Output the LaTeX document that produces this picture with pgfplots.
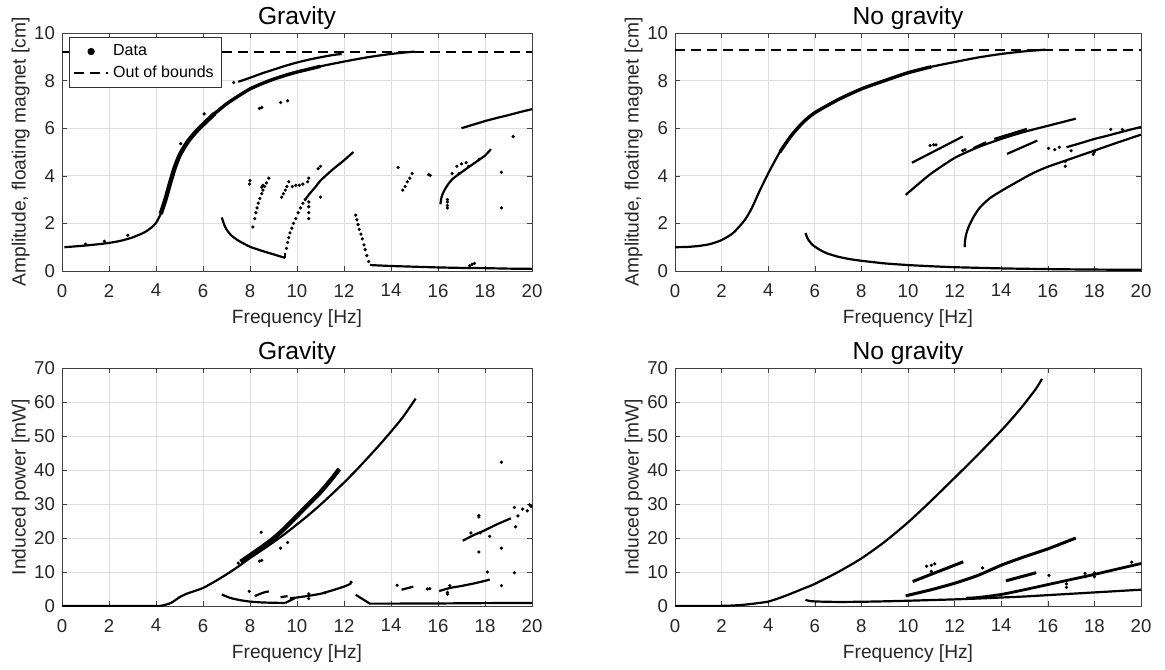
\documentclass[border=0pt]{standalone}
\usepackage{fontspec}
\setmainfont{Liberation Sans}
\usepackage{pgfplots}
\pgfplotsset{compat=1.18}

\pgfplotsset{
  mlab/.style={
    scale only axis, width=235pt, height=119pt,
    xmin=0, xmax=20, xtick={0,2,...,20},
    grid=major, grid style={black!13, line width=0.4pt},
    axis line style={black!75, line width=0.5pt},
    tick align=inside, major tick length=2.5pt, tick style={black!75},
    ticklabel style={font=\fontsize{9.3}{10}\selectfont, text=black!85},
    xticklabel style={yshift=-3pt},
    label style={font=\fontsize{9.6}{11}\selectfont, text=black!85},
    xlabel style={yshift=0.5pt},
    ylabel style={yshift=-4.5pt},
    title style={font=\fontsize{12.3}{13}\selectfont, text=black, yshift=-8pt},
    xlabel={Frequency [Hz]},
    /pgf/number format/assume math mode=true,
  },
  crv/.style={black, line width=1.1pt, no marks},
  thk/.style={black, line width=2.2pt, no marks},
  dts/.style={black, only marks, mark=*, mark size=0.6pt},
  oob/.style={black, line width=1pt, dash pattern=on 5pt off 3pt},
}

\begin{document}
\begin{tikzpicture}

% ---------------- top left: gravity, amplitude
\begin{axis}[mlab, at={(31pt,-135.5pt)}, anchor=south west,
  ymin=0, ymax=10, ytick={0,2,...,10},
  title={Gravity}, ylabel={Amplitude, floating magnet [cm]},
  legend style={at={(0.015,0.985)}, anchor=north west, draw=black!80,
    font=\fontsize{8}{9}\selectfont, cells={anchor=west},
    row sep=-0.5pt, inner sep=1.8pt}]
\addlegendimage{black, only marks, mark=*, mark size=1.6pt}
\addlegendentry{Data}
\addlegendimage{oob}
\addlegendentry{Out of bounds}
\addplot[oob] coordinates {(0,9.2)(20,9.2)};
\addplot[crv, smooth, tension=0.4] coordinates {(0.1,1.0)(0.5,1.03)(1,1.07)(1.5,1.12)(2,1.18)(2.5,1.27)(3,1.41)(3.5,1.62)(3.8,1.82)(4,2.02)(4.2,2.4)(4.4,3.0)(4.6,3.7)(4.8,4.35)(5,4.85)(5.2,5.2)(5.4,5.5)(5.7,5.85)(6,6.15)(6.5,6.62)(7,7.02)(7.5,7.35)(8,7.65)(8.5,7.87)(9,8.06)(9.5,8.22)(10,8.36)(11,8.6)(12,8.8)(13,8.98)(14,9.12)(15,9.22)};
\addplot[thk, smooth, tension=0.4] coordinates {(4.2,2.4)(4.4,3.0)(4.6,3.7)(4.8,4.35)(5,4.85)(5.2,5.2)(5.4,5.5)(5.7,5.85)(6,6.15)(6.5,6.62)};
\addplot[black, line width=1.7pt, smooth, tension=0.4] coordinates {(6.5,6.62)(7,7.02)(7.5,7.35)(8,7.65)(8.5,7.87)(9,8.06)(9.5,8.22)(10,8.36)(11,8.6)};
\addplot[crv, smooth, tension=0.4] coordinates {(7.5,7.95)(7.8,8.05)(8,8.12)(8.5,8.3)(9,8.46)(9.5,8.62)(10,8.76)(10.5,8.88)(11,8.98)(11.5,9.07)(11.9,9.12)};
\addplot[dts] coordinates {(7.3,7.92)(8.4,6.83)(8.5,6.87)(9.3,7.08)(9.6,7.15)(1.0,1.13)(1.8,1.25)(2.8,1.5)(6.05,6.6)(5.05,5.35)};
\addplot[crv, smooth, tension=0.4] coordinates {(6.8,2.25)(6.9,1.95)(7,1.75)(7.2,1.5)(7.5,1.28)(8,1.02)(8.5,0.85)(9,0.7)(9.5,0.55)};
\addplot[crv] coordinates {(9.5,0.55)(9.5,0.75)};
\addplot[dts] coordinates {(9.55,0.95)(9.6,1.2)(9.65,1.4)(9.7,1.6)(9.78,1.8)(9.85,2.0)(9.95,2.2)(10.05,2.45)(10.15,2.65)(10.25,2.85)(10.35,3.0)};
\addplot[crv, smooth, tension=0.4] coordinates {(10.35,3.0)(10.5,3.2)(10.8,3.55)(11,3.8)(11.5,4.25)(12,4.65)(12.4,5.0)};
\addplot[dts] coordinates {(8.12,1.85)(8.2,2.2)(8.25,2.45)(8.3,2.65)(8.35,2.85)(8.42,3.05)(8.5,3.25)(8.55,3.4)(8.62,3.55)(8.7,3.7)(8.8,3.9)};
\addplot[dts] coordinates {(8.0,3.8)(7.98,3.65)(8.55,3.6)(8.5,3.52)(9.35,3.1)(9.42,3.25)(9.5,3.4)(9.57,3.55)(9.65,3.75)};
\addplot[dts] coordinates {(9.8,3.55)(9.95,3.6)(10.1,3.6)(10.25,3.65)(10.45,3.75)(10.5,3.9)(10.5,2.2)(10.5,2.45)(10.5,2.7)(10.5,2.9)(11,3.1)(10.9,4.3)(11,4.4)};
\addplot[dts] coordinates {(12.5,2.35)(12.55,2.15)(12.6,1.95)(12.65,1.75)(12.72,1.55)(12.78,1.35)(12.85,1.1)(12.9,0.9)(12.97,0.65)(13.05,0.4)};
\addplot[crv] coordinates {(13.1,0.25)(14,0.21)(15,0.18)(16,0.15)(17,0.13)(18,0.12)(19,0.1)(20,0.09)};
\addplot[dts] coordinates {(17.35,0.22)(17.45,0.28)(17.55,0.32)(14.3,4.35)(14.5,3.4)(14.6,3.55)(14.7,3.75)(14.8,3.9)(14.9,4.1)(15.6,4.05)(15.67,4.02)};
\addplot[crv, smooth, tension=0.4] coordinates {(16.1,2.8)(16.15,3.1)(16.25,3.35)(16.4,3.6)(16.6,3.85)(17,4.15)(17.5,4.5)(18,4.85)(18.25,5.12)};
\addplot[dts] coordinates {(16.4,2.65)(16.4,2.75)(16.4,2.9)(16.4,3.0)(16.6,4.1)(16.8,4.4)(17,4.5)(17.75,4.7)(17.3,4.4)(18.7,4.15)(18.7,2.65)(19.2,5.65)(16.9,4.1)(17.2,4.55)};
\addplot[crv] coordinates {(17,6.0)(17.5,6.15)(18,6.3)(18.5,6.43)(19,6.55)(19.5,6.68)(20,6.8)};
\end{axis}

% ---------------- top right: no gravity, amplitude
\begin{axis}[mlab, at={(337.5pt,-135.5pt)}, anchor=south west, width=233pt,
  ymin=0, ymax=10, ytick={0,2,...,10},
  title={No gravity}, ylabel={Amplitude, floating magnet [cm]}]
\addplot[oob] coordinates {(0,9.3)(20,9.3)};
\addplot[crv, smooth, tension=0.4] coordinates {(0,1)(0.5,1.01)(1,1.05)(1.5,1.13)(2,1.3)(2.5,1.6)(3,2.15)(3.3,2.65)(3.6,3.3)(4,4.1)(4.5,5.0)(5,5.7)(5.5,6.25)(6,6.65)(7,7.2)(8,7.65)(9,8.0)(10,8.33)(11,8.58)(12,8.78)(13,8.97)(14,9.12)(15,9.23)(15.9,9.3)};
\addplot[black, line width=1.7pt, smooth, tension=0.4] coordinates {(4.5,5.0)(5,5.7)(5.5,6.25)(6,6.65)(7,7.2)(8,7.65)(9,8.0)(10,8.33)(11,8.58)};
\addplot[crv, smooth, tension=0.4] coordinates {(5.6,1.6)(5.7,1.35)(5.9,1.1)(6.2,0.9)(6.5,0.75)(7,0.6)(7.5,0.5)(8,0.43)(9,0.32)(10,0.25)(11,0.2)(12,0.16)(14,0.11)(16,0.08)(18,0.06)(20,0.05)};
\addplot[crv, smooth, tension=0.4] coordinates {(9.9,3.2)(10.5,3.7)(11,4.1)(12,4.75)(13,5.2)(14,5.55)(15,5.85)(16,6.1)(17.2,6.4)};
\addplot[crv] coordinates {(10.17,4.55)(12.35,5.65)};
\addplot[crv] coordinates {(12.8,5.16)(13.35,5.41)};
\addplot[crv] coordinates {(13.7,5.55)(15.1,5.97)};
\addplot[crv] coordinates {(14.25,4.92)(15.55,5.48)};
\addplot[crv, smooth, tension=0.4] coordinates {(12.43,1.0)(12.45,1.3)(12.5,1.56)(12.6,1.85)(12.8,2.25)(13.07,2.65)(13.5,3.05)(14.1,3.42)(15.3,4.08)(16,4.38)(17,4.72)(18,5.06)(19,5.4)(20,5.73)};
\addplot[crv] coordinates {(16.8,5.2)(17.5,5.4)(18,5.55)(18.5,5.67)(19,5.8)(19.5,5.93)(20,6.05)};
\addplot[dts] coordinates {(10.95,5.27)(11.1,5.3)(11.2,5.3)(12.35,5.06)(12.45,5.1)(16.03,5.15)(16.3,5.1)(16.5,5.2)(16.75,4.4)(16.75,4.6)(17,5.05)(17.95,4.9)(18,5.0)(18.7,5.95)(19.2,5.95)};
\end{axis}

% ---------------- bottom left: gravity, power
\begin{axis}[mlab, at={(31pt,-303pt)}, anchor=south west,
  ymin=0, ymax=70, ytick={0,10,...,70},
  title={Gravity}, ylabel={Induced power [mW]}]
\addplot[crv, smooth, tension=0.4] coordinates {(0,0)(2,0)(4,0)(4.3,0.2)(4.6,0.8)(4.8,1.6)(5,2.6)(5.3,3.6)(5.6,4.3)(6,5.3)(6.5,7.2)(7,9.3)(7.5,11.6)(8,14.1)(8.5,16.4)(9,18.8)(9.5,21.3)(10,24)(10.5,26.8)(11,29.8)(11.5,33)(12,36.3)(12.5,39.8)(13,43.5)(13.5,47.3)(14,51.3)(14.5,55.5)(15.05,61)};
\addplot[black, line width=2.2pt, smooth, tension=0.4] coordinates {(7.6,13)(8,14.9)(8.5,17.3)(9,19.9)(9.5,23)(10,26.5)(10.5,30)(11,33.5)(11.5,37.6)(11.8,40.3)};
\addplot[dts] coordinates {(8.47,21.7)(8.4,13.2)(8.5,13.4)(9.3,17)(9.6,18.7)(7.5,12.6)};
\addplot[crv, smooth, tension=0.4] coordinates {(6.8,3.4)(7,2.8)(7.2,2.3)(7.6,1.7)(8,1.3)(8.5,1.05)(9,0.95)(9.5,0.9)};
\addplot[crv] coordinates {(9.5,0.9)(9.9,2.3)};
\addplot[crv, smooth, tension=0.4] coordinates {(8.2,2.9)(8.4,3.5)(8.6,4.0)(8.8,4.3)};
\addplot[crv] coordinates {(9.3,2.6)(9.6,2.9)};
\addplot[crv, smooth, tension=0.4] coordinates {(9.7,2.3)(10,2.5)(10.5,3.0)(11,3.6)(11.5,4.6)(12,5.7)(12.3,6.6)};
\addplot[dts] coordinates {(7.97,4.3)(10.5,2.2)(10.5,3.6)(11.2,3.9)(12.3,7)};
\addplot[crv] coordinates {(12.5,3.3)(13.1,0.7)(14,0.7)(16,0.75)(18,0.85)(20,0.9)};
\addplot[crv] coordinates {(14.45,4.8)(14.95,5.7)};
\addplot[dts] coordinates {(14.26,6.1)(15.55,5.0)(15.65,5.1)};
\addplot[crv, smooth, tension=0.4] coordinates {(16.05,4.4)(16.5,5.3)(17,5.9)(17.5,6.6)(18,7.4)(18.2,7.8)};
\addplot[dts] coordinates {(16.4,3.5)(16.4,4.0)(16.5,6.0)(18.1,10)(18.7,6)(19.25,9.8)};
\addplot[crv] coordinates {(17.05,19.2)(17.5,20.8)(18,22.3)(18.5,24)(19.1,25.8)};
\addplot[dts] coordinates {(19.4,26.5)(19.6,28.5)(19.8,28)(19.96,29.3)(19.9,29.8)(17.74,26.6)(17.74,26.2)(17.74,15.9)(18.7,17)(19.3,23.3)(18.7,42.3)(19.25,29)(17.4,21.5)(17.8,21.5)(18.2,20.5)};
\end{axis}

% ---------------- bottom right: no gravity, power
\begin{axis}[mlab, at={(337.5pt,-303pt)}, anchor=south west, width=233pt,
  ymin=0, ymax=70, ytick={0,10,...,70},
  title={No gravity}, ylabel={Induced power [mW]}]
\addplot[crv, smooth, tension=0.4] coordinates {(0,0)(1,0)(2,0.05)(2.5,0.15)(3,0.4)(3.5,0.8)(4,1.3)(4.5,2.4)(5,3.7)(5.5,5.1)(6,6.5)(7,10)(8,14)(9,18.9)(10,24.6)(11,31)(12,37.7)(13,44.5)(14,51.6)(14.5,55.4)(15,59.5)(15.5,64)(15.75,66.8)};
\addplot[crv, smooth, tension=0.4] coordinates {(5.6,1.8)(5.8,1.45)(6.2,1.3)(7,1.2)(8,1.25)(9,1.38)(10,1.55)(11,1.75)(12,1.95)(13,2.2)(14,2.5)(15,2.8)(16,3.2)(17,3.6)(18,4.0)(19,4.4)(20,4.8)};
\addplot[black, line width=1.5pt, smooth, tension=0.4] coordinates {(9.9,3)(11,4.8)(12,6.7)(13,9)(14,12)(15,14.5)(16,16.8)(17.2,20)};
\addplot[black, line width=1.5pt] coordinates {(10.2,7.2)(12.37,13.0)};
\addplot[black, line width=1.5pt] coordinates {(14.2,7.4)(15.5,9.8)};
\addplot[black, line width=1.4pt, smooth, tension=0.4] coordinates {(12.5,2.3)(13,2.5)(14,3.4)(15,4.8)(16,6.3)(17,7.8)(18,9.3)(19,10.9)(20,12.5)};
\addplot[dts] coordinates {(10.8,11.7)(11.0,12)(11.15,12.4)(11,10.2)(13.2,11.2)(16.05,9)(16.8,5.5)(16.8,6.5)(17.6,8.6)(17.6,9.6)(18,8.6)(18,9.8)(19.6,12.9)};
\end{axis}
\pgfresetboundingbox
\path[use as bounding box] (0pt,0pt) rectangle (582.5pt,-334.5pt);
\end{tikzpicture}
\end{document}
